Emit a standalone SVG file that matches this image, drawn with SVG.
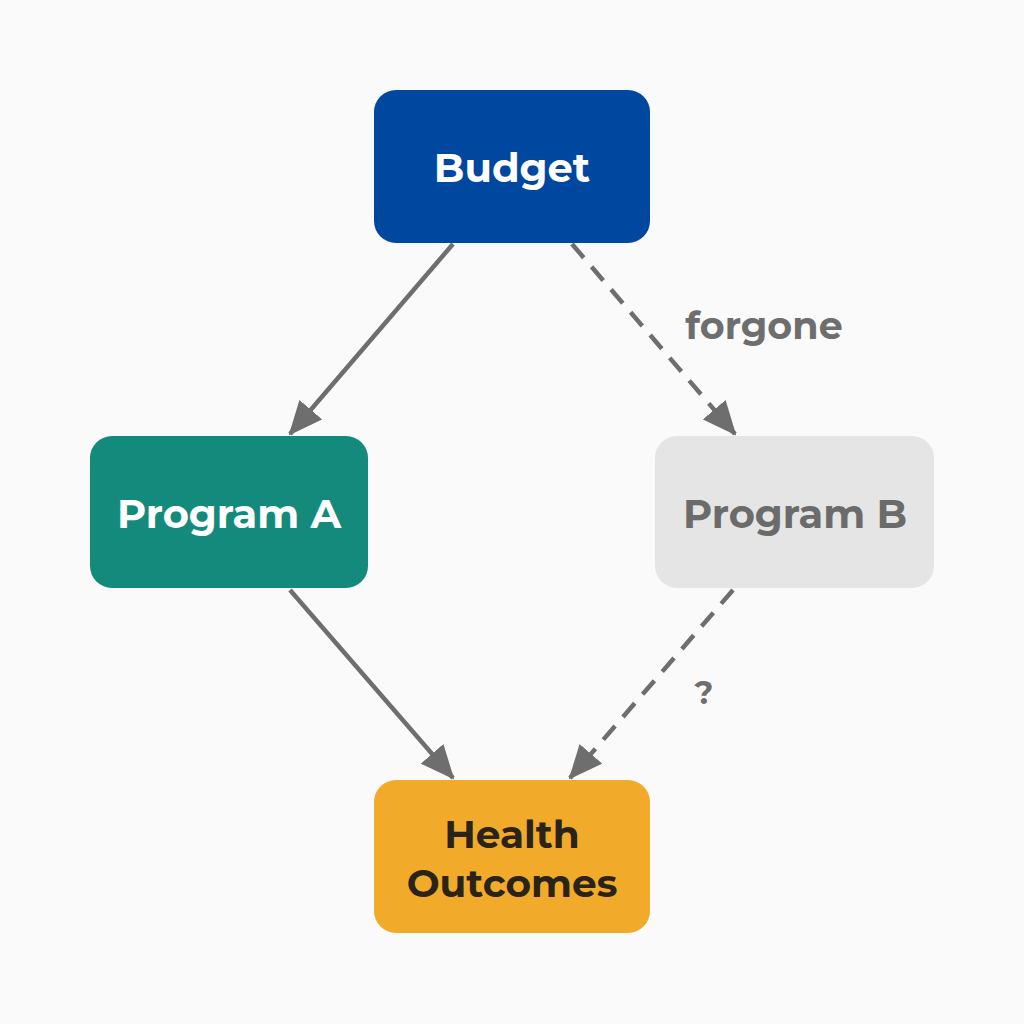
<svg xmlns="http://www.w3.org/2000/svg" width="1024" height="1024" viewBox="0 0 1024 1024">
<defs>
<marker id="ah" markerUnits="userSpaceOnUse" markerWidth="34" markerHeight="30" refX="32" refY="15" orient="auto" viewBox="0 0 34 30">
<path d="M0,0 L34,15 L0,30 Z" fill="#6e6e6e"/>
</marker>
<style>
.node text{font-family:"Montserrat","Inter","Open Sans","Liberation Sans",sans-serif;font-weight:700;text-anchor:middle;dominant-baseline:central}
.conn line{stroke:#6e6e6e;stroke-width:4.5;fill:none}
.dash{stroke-dasharray:18 12}
.lbl{font-family:"Montserrat","Inter","Open Sans","Liberation Sans",sans-serif;font-weight:700;fill:#6e6e6e;text-anchor:middle;dominant-baseline:central}
</style>
</defs>
<rect width="1024" height="1024" fill="#fafafa"/>
<g id="connectors" class="conn">
<line x1="453" y1="244" x2="290" y2="434" marker-end="url(#ah)"/>
<line class="dash" x1="572" y1="244" x2="735" y2="434" marker-end="url(#ah)"/>
<line x1="290" y1="590" x2="453" y2="778" marker-end="url(#ah)"/>
<line class="dash" x1="733" y1="590" x2="570" y2="778" marker-end="url(#ah)"/>
</g>
<text class="lbl" x="764" y="325" font-size="38">forgone</text>
<text class="lbl" x="704" y="692" font-size="32">?</text>
<g id="budget" class="node">
<rect x="374" y="90" width="276" height="153" rx="22" fill="#0047a0"/>
<text x="512" y="167" font-size="40" fill="#ffffff">Budget</text>
</g>
<g id="programA" class="node">
<rect x="90" y="436" width="278" height="152" rx="22" fill="#138a7c"/>
<text x="229" y="513" font-size="40" fill="#ffffff">Program A</text>
</g>
<g id="programB" class="node">
<rect x="655" y="436" width="279" height="152" rx="22" fill="#e5e5e5"/>
<text x="795" y="513" font-size="40" fill="#6b6b6b">Program B</text>
</g>
<g id="health" class="node">
<rect x="374" y="780" width="276" height="153" rx="22" fill="#f2aa2a"/>
<text x="512" y="834" font-size="39" fill="#2a2418">Health</text>
<text x="512" y="883" font-size="39" fill="#2a2418">Outcomes</text>
</g>
</svg>
